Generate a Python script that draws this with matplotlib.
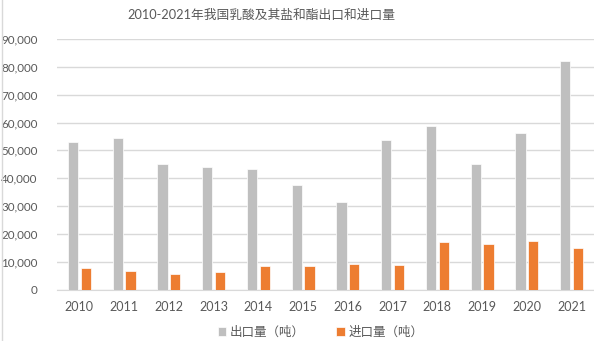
import matplotlib.pyplot as plt
import numpy as np

plt.rcParams['font.family'] = ['Lato', 'Noto Sans CJK SC', 'DejaVu Sans']

years = ['2010', '2011', '2012', '2013', '2014', '2015', '2016',
         '2017', '2018', '2019', '2020', '2021']
exports = [52900, 54600, 45000, 44000, 43400, 37400, 31300,
           53600, 58900, 45000, 56300, 82000]
imports = [7900, 6500, 5500, 6200, 8300, 8600, 9000,
           8800, 17200, 16500, 17400, 15000]
yticks = list(range(0, 90001, 10000))

title = '2010-2021年我国乳酸及其盐和酯出口和进口量'
label_exp = '出口量（吨）'
label_imp = '进口量（吨）'

txt = '#595959'
fig = plt.figure(figsize=(5.94, 3.41), dpi=100)
ax = fig.add_axes([57 / 594, 1 - 289.5 / 341, 1 - 57 / 594, (289.5 - 39) / 341])

x = np.arange(len(years))
w = 0.225
ax.bar(x - 0.142, exports, w, color='#BFBFBF', edgecolor='white', linewidth=0.5,
       label=label_exp, zorder=3)
ax.bar(x + 0.142, imports, w, color='#ED7D31', edgecolor='white', linewidth=0.5,
       label=label_imp, zorder=3)

ax.set_xlim(-0.5, len(years) - 0.5)
ax.set_ylim(0, 90000)
ax.set_yticks(yticks)
ax.set_yticklabels([f'{v:,}' for v in yticks])
ax.set_xticks(x)
ax.set_xticklabels(years)
ax.grid(axis='y', color='#D9D9D9', linewidth=1, zorder=0)
for s in ['top', 'right', 'left']:
    ax.spines[s].set_visible(False)
ax.spines['bottom'].set_color('#D9D9D9')
ax.tick_params(axis='both', length=0, colors=txt, labelsize=9)
ax.tick_params(axis='y', pad=14, labelsize=8.4)
ax.tick_params(axis='x', pad=8)

fig.text(261 / 594, 1 - 15 / 341, title, ha='center', va='center', fontsize=9.2, color=txt)

leg = fig.legend(loc='center', bbox_to_anchor=(0.54, 1 - 332 / 341), ncol=2,
                 frameon=False, fontsize=9, handlelength=0.7, handleheight=0.7,
                 columnspacing=2.5, handletextpad=0.3)
for t in leg.get_texts():
    t.set_color(txt)

# faint chart border on the left edge
fig.add_artist(plt.Line2D([0.003, 0.003], [0, 1], color='#D9D9D9', linewidth=1,
                          transform=fig.transFigure))

fig.savefig('out.png', dpi=100)
